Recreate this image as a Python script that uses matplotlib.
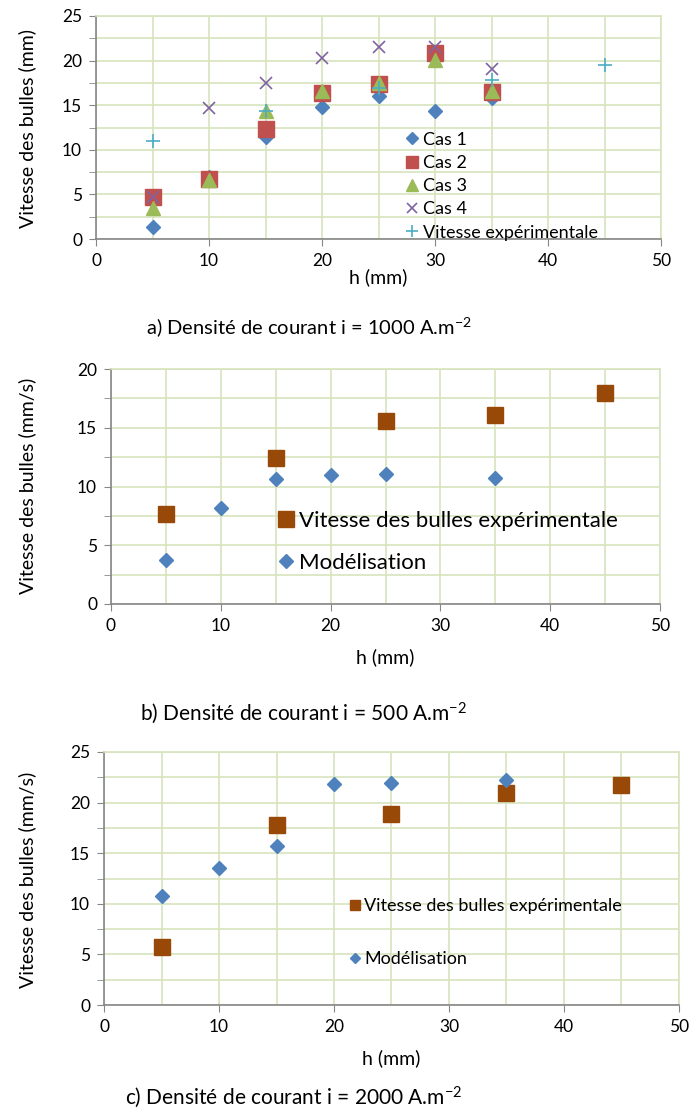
import numpy as np
import matplotlib
matplotlib.use('Agg')
import matplotlib.pyplot as plt
from matplotlib.ticker import MultipleLocator

plt.rcParams['font.family'] = ['Lato', 'DejaVu Sans']
plt.rcParams['mathtext.default'] = 'regular'

# a) i = 1000 A.m-2
h_a = [5, 10, 15, 20, 25, 30, 35]
cas1 = [1.3, 7.0, 11.4, 14.8, 16.0, 14.4, 15.8]
cas2 = [4.75, 6.7, 12.3, 16.4, 17.4, 20.8, 16.5]
cas3 = [3.5, 6.6, 14.4, 16.6, 17.5, 20.1, 16.6]
cas4 = [4.75, 14.7, 17.5, 20.3, 21.5, 21.5, 19.1]
h_exp_a = [5, 15, 25, 35, 45]
v_exp_a = [11.0, 14.4, 16.9, 17.8, 19.5]

# b) i = 500 A.m-2
h_exp_b = [5, 15, 25, 35, 45]
v_exp_b = [7.7, 12.45, 15.6, 16.1, 18.0]
h_mod_b = [5, 10, 15, 20, 25, 35]
v_mod_b = [3.75, 8.2, 10.6, 11.0, 11.05, 10.7]

# c) i = 2000 A.m-2
h_exp_c = [5, 15, 25, 35, 45]
v_exp_c = [5.7, 17.8, 18.9, 20.9, 21.7]
h_mod_c = [5, 10, 15, 20, 25, 35]
v_mod_c = [10.8, 13.55, 15.7, 21.8, 21.9, 22.2]

BLUE = '#4F81BD'
RED = '#C0504D'
GREEN = '#9BBB59'
PURPLE = '#8064A2'
CYAN = '#4BACC6'
BROWN = '#984807'
GRID = '#D7E4BD'
AXIS = '#868686'

W, H = 691, 1111
fig = plt.figure(figsize=(W / 100, H / 100), dpi=100)


def box(l, r, t, b):
    return [l / W, 1 - b / H, (r - l) / W, (b - t) / H]


def style(ax, ymax):
    ax.set_xlim(0, 50)
    ax.set_ylim(0, ymax)
    ax.xaxis.set_major_locator(MultipleLocator(10))
    ax.xaxis.set_minor_locator(MultipleLocator(5))
    ax.yaxis.set_major_locator(MultipleLocator(5))
    ax.yaxis.set_minor_locator(MultipleLocator(2.5))
    ax.grid(True, which='both', color=GRID, lw=1.2, zorder=0)
    ax.set_axisbelow(True)
    for s in ['top', 'right']:
        ax.spines[s].set_color(GRID)
        ax.spines[s].set_linewidth(1.2)
    for s in ['left', 'bottom']:
        ax.spines[s].set_color(AXIS)
        ax.spines[s].set_linewidth(1.2)
    ax.tick_params(which='major', direction='out', length=5, color=AXIS,
                   labelsize=12.5, pad=5)
    ax.tick_params(axis='y', which='minor', direction='out', length=5, color=AXIS)
    ax.tick_params(axis='x', which='minor', length=0)


# panel a
ax = fig.add_axes(box(96, 661, 16, 239))
style(ax, 25)
ax.plot(h_a, cas1, 'D', color=BLUE, ms=7, ls='none', label='Cas 1', zorder=3)
ax.plot(h_a, cas2, 's', color=RED, ms=11, ls='none', label='Cas 2', zorder=3)
ax.plot(h_a, cas3, '^', color=GREEN, ms=10, ls='none', label='Cas 3', zorder=3)
ax.plot(h_a, cas4, 'x', color=PURPLE, ms=9, mew=1.2, ls='none', label='Cas 4', zorder=4)
ax.plot(h_exp_a, v_exp_a, '+', color=CYAN, ms=10, mew=1.2, ls='none',
        label='Vitesse expérimentale', zorder=4)
ax.legend(loc='lower left', bbox_to_anchor=(0.514, -0.08), frameon=False,
          fontsize=13, handletextpad=0.1, labelspacing=0.4, handlelength=1.0,
          markerscale=0.85)
fig.text(378 / W, 1 - 277 / H, 'h (mm)', ha='center', va='center', fontsize=14)
fig.text(27 / W, 1 - 128 / H, 'Vitesse des bulles (mm)', rotation=90,
         ha='center', va='center', fontsize=14)
fig.text(309 / W, 1 - 327 / H, 'a) Densité de courant i = 1000 A.m$^{-2}$',
         ha='center', va='center', fontsize=14.5)

# panel b
ax = fig.add_axes(box(111, 660, 369, 604))
style(ax, 20)
ax.plot(h_exp_b, v_exp_b, 's', color=BROWN, ms=11, ls='none',
        label='Vitesse des bulles expérimentale', zorder=3)
ax.plot(h_mod_b, v_mod_b, 'D', color=BLUE, ms=7, ls='none',
        label='Modélisation', zorder=3)
ax.legend(loc='lower left', bbox_to_anchor=(0.265, 0.047), frameon=False,
          fontsize=16, handletextpad=0.1, labelspacing=1.0, handlelength=0.9)
fig.text(385 / W, 1 - 657 / H, 'h (mm)', ha='center', va='center', fontsize=14)
fig.text(27 / W, 1 - 486 / H, 'Vitesse des bulles (mm/s)', rotation=90,
         ha='center', va='center', fontsize=14)
fig.text(140 / W, 1 - 713 / H, 'b) Densité de courant i = 500 A.m$^{-2}$',
         ha='left', va='center', fontsize=15)

# panel c
ax = fig.add_axes(box(104, 679, 752, 1005))
style(ax, 25)
ax.plot(h_exp_c, v_exp_c, 's', color=BROWN, ms=11, ls='none',
        label='Vitesse des bulles expérimentale', zorder=3)
ax.plot(h_mod_c, v_mod_c, 'D', color=BLUE, ms=7, ls='none',
        label='Modélisation', zorder=3)
ax.legend(loc='lower left', bbox_to_anchor=(0.396, 0.085), frameon=False,
          fontsize=13, handletextpad=0.1, labelspacing=2.05, handlelength=0.8,
          markerscale=0.7)
fig.text(391 / W, 1 - 1058 / H, 'h (mm)', ha='center', va='center', fontsize=14)
fig.text(27 / W, 1 - 880 / H, 'Vitesse des bulles (mm/s)', rotation=90,
         ha='center', va='center', fontsize=14)
fig.text(125 / W, 1 - 1097 / H, 'c) Densité de courant i = 2000 A.m$^{-2}$',
         ha='left', va='center', fontsize=15)

fig.savefig('out.png', dpi=100)
